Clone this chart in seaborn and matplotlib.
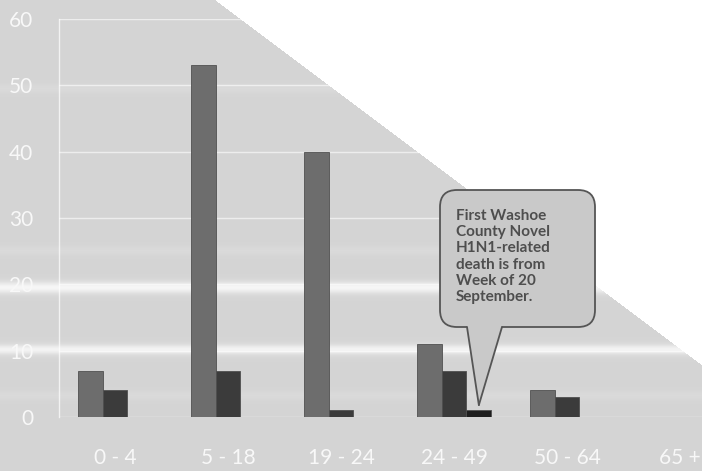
import numpy as np
import pandas as pd
import matplotlib
matplotlib.use("Agg")
import matplotlib.pyplot as plt
from matplotlib.patches import FancyBboxPatch, Polygon
from matplotlib.lines import Line2D
from matplotlib.transforms import IdentityTransform
import seaborn as sns

# Novel H1N1 cases by age group
age_groups = ["0 - 4", "5 - 18", "19 - 24", "24 - 49", "50 - 64", "65 +"]
series_names = ["Cases", "Hospitalized", "Deaths"]
cases = [7, 53, 40, 11, 4, 0]
hospitalized = [4, 7, 1, 7, 3, 0]
deaths = [0, 0, 0, 1, 0, 0]
y_ticks = [0, 10, 20, 30, 40, 50, 60]
callout_text = "First Washoe\nCounty Novel\nH1N1-related\ndeath is from\nWeek of 20\nSeptember."

df = pd.DataFrame({
    "age": age_groups * 3,
    "series": [s for s in series_names for _ in age_groups],
    "count": cases + hospitalized + deaths,
})

W, H = 702, 471
sns.set_theme(style="white")
plt.rcParams["font.family"] = ["Lato", "DejaVu Sans"]

fig = plt.figure(figsize=(W / 100, H / 100), dpi=100)
fig.patch.set_facecolor("#d4d4d4")

# backdrop: flat grey with light horizontal streaks and a white corner
bg = np.full((H, W), 0.835)
rows = np.arange(H)[:, None]
for centre, amp, width in [(287, 0.13, 4.0), (349, 0.12, 3.5), (88, 0.02, 3), (250, 0.02, 3), (395, 0.02, 3)]:
    bg += amp * np.exp(-((rows - centre) ** 2) / (2 * width ** 2))
cols = np.arange(W)[None, :]
edge_y = (cols - 215) * (365 / (702 - 215))
bg = np.where(rows < edge_y, 1.0, bg)
bg = np.clip(bg, 0, 1)
fig.figimage(np.dstack([bg, bg, bg]), xo=0, yo=0, origin="upper", zorder=-1)

left_px, right_px, top_px, bottom_px = 58.5, 702, 19, 417
ax = fig.add_axes([left_px / W, 1 - bottom_px / H,
                   (right_px - left_px) / W, (bottom_px - top_px) / H])
ax.set_zorder(1)
ax.patch.set_alpha(0)

palette = {"Cases": "#6d6d6d", "Hospitalized": "#3b3b3b", "Deaths": "#1e1e1e"}
sns.barplot(data=df, x="age", y="count", hue="series", order=age_groups,
            hue_order=series_names, palette=palette, width=0.66,
            saturation=1, edgecolor="#505050", linewidth=0.6,
            legend=False, ax=ax, zorder=3)

ax.set_ylim(0, 60)
ax.set_xlim(-0.5, (right_px - left_px) / 113 - 0.5)
ax.set_yticks(y_ticks)
ax.set_xlabel("")
ax.set_ylabel("")
ax.yaxis.grid(True, color="white", linewidth=1.0, alpha=0.6)
ax.set_axisbelow(True)
for side in ["top", "right", "bottom"]:
    ax.spines[side].set_visible(False)
ax.spines["left"].set_color("white")
ax.spines["left"].set_linewidth(1.0)
ax.spines["left"].set_alpha(0.7)
ax.tick_params(axis="y", length=0, pad=18, labelsize=15, labelcolor="#f8f8f8")
ax.tick_params(axis="x", length=0, pad=22, labelsize=15, labelcolor="#f8f8f8")

# speech-bubble callout pointing at the first death bar
fig.canvas.draw()
tip = ax.transData.transform((3 + 0.22, 1.8))
def px(x, y):
    return (x, H - y)

box_l, box_t, box_r, box_b = 440, 190, 595, 327
tail_l, tail_r = 467, 502
bubble = FancyBboxPatch(px(box_l, box_b), box_r - box_l, box_b - box_t,
                        boxstyle="round,pad=0,rounding_size=17",
                        transform=IdentityTransform(), facecolor="#c9c9c9",
                        edgecolor="#555555", linewidth=1.3, zorder=5)
fig.add_artist(bubble)
tail = Polygon([px(tail_l, box_b - 2), px(tail_r, box_b - 2), tip],
               closed=True, transform=IdentityTransform(),
               facecolor="#c9c9c9", edgecolor="none", zorder=6)
fig.add_artist(tail)
for bx in (tail_l, tail_r):
    b = px(bx, box_b)
    fig.add_artist(Line2D([b[0], tip[0]], [b[1], tip[1]], color="#555555",
                          linewidth=1.3, transform=IdentityTransform(), zorder=7))
fig.text(456 / W, 1 - 209 / H, callout_text, ha="left", va="top",
         fontsize=11, fontweight="bold", color="#4e4e4e", linespacing=1.2,
         zorder=8)

fig.savefig("out.png", dpi=100)
